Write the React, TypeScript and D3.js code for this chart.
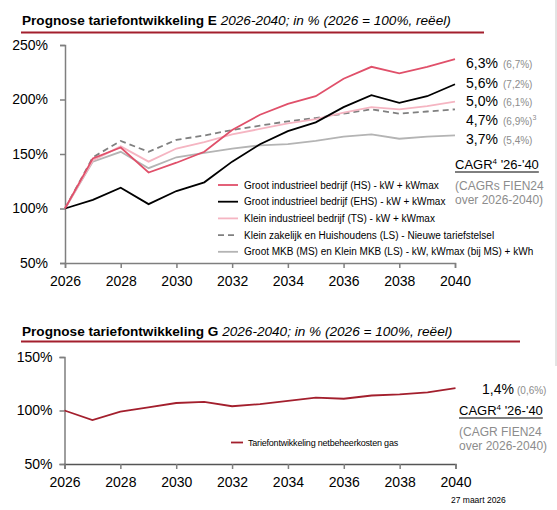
import { useEffect, useRef } from "react";
import * as d3 from "d3";

// --- data ---
const years = [2026, 2027, 2028, 2029, 2030, 2031, 2032, 2033, 2034, 2035, 2036, 2037, 2038, 2039, 2040];

const hsValues = [100, 146, 156, 133, 142, 152, 172, 186, 196, 203, 219, 230, 224, 230, 237];
const ehsValues = [100, 108, 119, 104, 116, 124, 143, 159, 171, 179, 193, 204, 197, 203, 214];
const tsValues = [100, 144, 157, 143, 155, 161, 168, 173, 178, 182, 188, 193, 191, 194, 198];
const lsValues = [100, 147, 162, 152, 163, 167, 172, 176, 180, 183, 187, 191, 187, 189, 191];
const msValues = [100, 143, 152, 137, 147, 151, 155, 158, 159, 162, 166, 168, 164, 166, 167];
const gasValues = [100, 91, 99, 103, 107, 108, 104, 106, 109, 112, 111, 114, 115, 117, 121];

const seriesNames = [
  "Groot industrieel bedrijf (HS) - kW + kWmax",
  "Groot industrieel bedrijf (EHS) - kW + kWmax",
  "Klein industrieel bedrijf (TS) - kW + kWmax",
  "Klein zakelijk en Huishoudens (LS) - Nieuwe tariefstelsel",
  "Groot MKB (MS) en Klein MKB (LS) - kW, kWmax (bij MS) + kWh",
];
const cagrLabels = ["6,3%", "5,6%", "5,0%", "4,7%", "3,7%"];
const fienLabels = ["(6,7%)", "(7,2%)", "(6,1%)", "(6,9%)", "(5,4%)"];
const fienNotes = ["", "", "", "3", ""];

const gasName = "Tariefontwikkeling netbeheerkosten gas";
const gasCagr = "1,4%";
const gasFien = "(0,6%)";

const topTicksY = [50, 100, 150, 200, 250];
const bottomTicksY = [50, 100, 150];
const ticksX = [2026, 2028, 2030, 2032, 2034, 2036, 2038, 2040];

// --- styling ---
const FONT = "'Liberation Sans', Arial, sans-serif";
const DARK_RED = "#a31f2d";
const AXIS = "#7f7f7f";
const GREYTXT = "#8c8c8c";
const seriesStyles = [
  { color: "#e0506a", dash: null },
  { color: "#000000", dash: null },
  { color: "#f5b5c2", dash: null },
  { color: "#808080", dash: "6,4" },
  { color: "#b4b4b4", dash: null },
];
const labelY = [63, 83, 101, 120, 139];

export default function App() {
  const ref = useRef<SVGSVGElement>(null);

  useEffect(() => {
    if (!ref.current) return;
    const svg = d3.select(ref.current);
    svg.selectAll("*").remove();
    svg.style("font-family", FONT);

    // right-edge rule
    svg.append("line").attr("x1", 556).attr("x2", 556).attr("y1", 0).attr("y2", 366)
      .attr("stroke", "#c8c8c8").attr("stroke-width", 1);

    const title = (y: number, bold: string, ital: string, lineY: number) => {
      const t = svg.append("text").attr("x", 22).attr("y", y).attr("font-size", 13.6).attr("fill", "#000");
      t.append("tspan").attr("font-weight", "bold").text(bold);
      t.append("tspan").attr("font-style", "italic").text(ital);
      svg.append("line").attr("x1", 21).attr("x2", lineY < 100 ? 484 : 520)
        .attr("y1", lineY).attr("y2", lineY).attr("stroke", DARK_RED).attr("stroke-width", 2);
    };

    const styleAxis = (a: d3.Selection<SVGGElement, unknown, null, undefined>) => {
      a.select(".domain").attr("stroke", AXIS).attr("stroke-width", 1.5);
      a.selectAll(".tick line").attr("stroke", AXIS).attr("stroke-width", 1.5);
      a.selectAll("text").attr("font-size", 14).attr("fill", "#000").attr("font-family", FONT);
    };

    // ===== Top chart =====
    title(25, "Prognose tariefontwikkeling E ", "2026-2040; in % (2026 = 100%, reëel)", 32.5);

    const x1 = d3.scaleLinear().domain([2026, 2040]).range([65, 455]);
    const y1 = d3.scaleLinear().domain([50, 250]).range([263, 45]);

    const g1 = svg.append("g");
    const yAx1 = g1.append("g").attr("transform", "translate(65,0)")
      .call(d3.axisLeft(y1).tickValues(topTicksY).tickFormat((d) => `${d}%`).tickSize(5).tickPadding(12));
    const xAx1 = g1.append("g").attr("transform", "translate(0,263)")
      .call(d3.axisBottom(x1).tickValues(ticksX).tickFormat(d3.format("d")).tickSize(5).tickPadding(8));
    styleAxis(yAx1);
    styleAxis(xAx1);

    const line1 = d3.line<number>().x((_, i) => x1(years[i])).y((d) => y1(d));
    const allSeries = [hsValues, ehsValues, tsValues, lsValues, msValues];
    // back-to-front: MS, LS, TS, EHS, HS
    [4, 3, 2, 1, 0].forEach((i) => {
      g1.append("path").datum(allSeries[i]).attr("d", line1).attr("fill", "none")
        .attr("stroke", seriesStyles[i].color).attr("stroke-width", 1.8)
        .attr("stroke-dasharray", seriesStyles[i].dash);
    });

    // legend
    seriesNames.forEach((name, i) => {
      const ly = 185 + i * 16.7;
      svg.append("line").attr("x1", 218).attr("x2", 238).attr("y1", ly).attr("y2", ly)
        .attr("stroke", seriesStyles[i].color).attr("stroke-width", 1.8)
        .attr("stroke-dasharray", seriesStyles[i].dash);
      svg.append("text").attr("x", 244).attr("y", ly + 3.5).attr("font-size", 10).attr("fill", "#000").text(name);
    });

    // end labels
    cagrLabels.forEach((lab, i) => {
      const t = svg.append("text").attr("x", 466).attr("y", labelY[i] + 5).attr("font-size", 14).attr("fill", "#000");
      t.append("tspan").text(lab);
      t.append("tspan").attr("x", 503).attr("font-size", 10).attr("fill", GREYTXT).text(fienLabels[i]);
      if (fienNotes[i]) {
        t.append("tspan").attr("font-size", 7).attr("dy", -5).attr("fill", GREYTXT).text(fienNotes[i]);
      }
    });

    const cagrBlock = (x: number, y: number, sub1: string, sub2: string) => {
      const t = svg.append("text").attr("x", x).attr("y", y).attr("font-size", 13).attr("fill", "#000");
      t.append("tspan").text("CAGR");
      t.append("tspan").attr("font-size", 8).attr("dy", -5).text("4");
      t.append("tspan").attr("dy", 5).text(" '26-'40");
      const w = (t.node() as SVGTextElement).getComputedTextLength();
      svg.append("line").attr("x1", x).attr("x2", x + w).attr("y1", y + 3).attr("y2", y + 3)
        .attr("stroke", "#000").attr("stroke-width", 1);
      svg.append("text").attr("x", x).attr("y", y + 21).attr("font-size", 12).attr("fill", GREYTXT).text(sub1);
      svg.append("text").attr("x", x).attr("y", y + 34.5).attr("font-size", 12).attr("fill", GREYTXT).text(sub2);
    };
    cagrBlock(455, 169, "(CAGRs FIEN24", "over 2026-2040)");

    // ===== Bottom chart =====
    title(336, "Prognose tariefontwikkeling G ", "2026-2040; in % (2026 = 100%, reëel)", 341.5);

    const x2 = d3.scaleLinear().domain([2026, 2040]).range([64.5, 455.5]);
    const y2 = d3.scaleLinear().domain([50, 150]).range([464, 357]);

    const g2 = svg.append("g");
    const yAx2 = g2.append("g").attr("transform", "translate(64.5,0)")
      .call(d3.axisLeft(y2).tickValues(bottomTicksY).tickFormat((d) => `${d}%`).tickSize(5).tickPadding(7));
    const xAx2 = g2.append("g").attr("transform", "translate(0,464)")
      .call(d3.axisBottom(x2).tickValues(ticksX).tickFormat(d3.format("d")).tickSize(5).tickPadding(8));
    styleAxis(yAx2);
    styleAxis(xAx2);
    xAx2.select(".domain").attr("stroke", "#555");

    const line2 = d3.line<number>().x((_, i) => x2(years[i])).y((d) => y2(d));
    g2.append("path").datum(gasValues).attr("d", line2).attr("fill", "none")
      .attr("stroke", DARK_RED).attr("stroke-width", 1.8);

    svg.append("line").attr("x1", 231).attr("x2", 243).attr("y1", 442.5).attr("y2", 442.5)
      .attr("stroke", DARK_RED).attr("stroke-width", 1.8);
    svg.append("text").attr("x", 248).attr("y", 445.5).attr("font-size", 9).attr("fill", "#000")
      .attr("letter-spacing", -0.2).text(gasName);

    const gt = svg.append("text").attr("x", 482).attr("y", 393.5).attr("font-size", 14).attr("fill", "#000");
    gt.append("tspan").text(gasCagr);
    gt.append("tspan").attr("x", 517).attr("font-size", 10).attr("fill", GREYTXT).text(gasFien);

    cagrBlock(459, 415, "(CAGR FIEN24", "over 2026-2040)");

    svg.append("text").attr("x", 451).attr("y", 503).attr("font-size", 8.5).attr("fill", "#000").text("27 maart 2026");
  }, []);

  return (
    <svg
      ref={ref}
      width={557}
      height={510}
      style={{ position: "absolute", left: 0, top: 0, background: "#fff" }}
    />
  );
}
